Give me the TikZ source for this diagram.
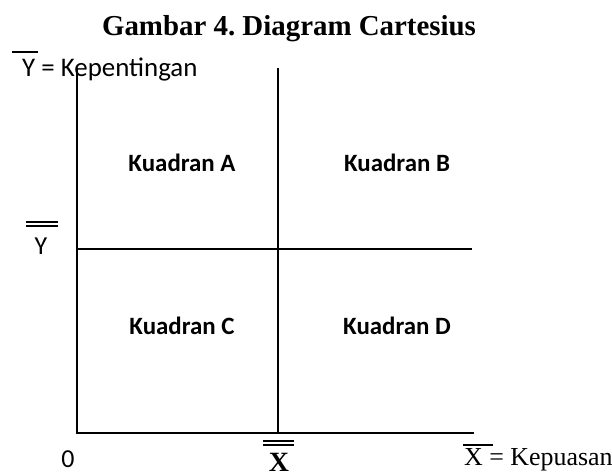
\documentclass[tikz,border=0pt]{standalone}
\usepackage{fontspec}
\setmainfont{Liberation Serif}
\newfontfamily\calib{Carlito}
\frenchspacing
\begin{document}
\begin{tikzpicture}[x=1bp,y=-1bp,
  axis/.style={line width=1.5bp,black},
  bar/.style={line width=1.1bp,black},
  quad/.style={font=\calib\bfseries\fontsize{25}{28}\selectfont,inner sep=0pt},
  sans/.style={font=\calib\fontsize{26}{29}\selectfont,inner sep=0pt,anchor=base},
  lbl/.style={inner sep=0pt,anchor=base west}]
\useasboundingbox (0,0) rectangle (612,474);
\node[font=\bfseries\fontsize{29}{32}\selectfont,inner sep=0pt,anchor=base] (title) at (289,36) {Gambar 4. Diagram Cartesius};
% axes
\coordinate (o) at (77,433);
\coordinate (ytop) at (77,68);
\coordinate (xend) at (474,433);
\coordinate (mtop) at (278,68);
\coordinate (mbot) at (278,433);
\coordinate (hl) at (76,249);
\coordinate (hr) at (472,249);
\draw[axis] (ytop) -- (o) -- (xend);
\draw[axis] (mtop) -- (mbot);
\draw[axis] (hl) -- (hr);
% quadrants
\node[quad] (qa) at (182,163) {Kuadran A};
\node[quad] (qb) at (397,163) {Kuadran B};
\node[quad] (qc) at (182,326) {Kuadran C};
\node[quad] (qd) at (397,326) {Kuadran D};
% Y label
\node[lbl,font=\calib\fontsize{27}{30}\selectfont] (ylab) at (22,77) {Y = Kepentingan};
\draw[bar] (12,52) -- (38,52);
% Y double bar
\draw[bar] (26,222) -- (58,222);
\draw[bar] (26,226) -- (58,226);
\node[sans] (ybar) at (41,255) {Y};
% origin
\node[sans] (zero) at (68,467) {0};
% X double bar
\draw[bar] (263,441) -- (294,441);
\draw[bar] (263,445) -- (294,445);
\node[font=\bfseries\fontsize{28}{30}\selectfont,inner sep=0pt,anchor=base] (xbar) at (279,471) {X};
% X label
\node[lbl,font=\fontsize{26}{29}\selectfont] (xlab) at (464,465) {X = Kepuasan};
\draw[bar] (463,445) -- (493,445);
\end{tikzpicture}
\end{document}
